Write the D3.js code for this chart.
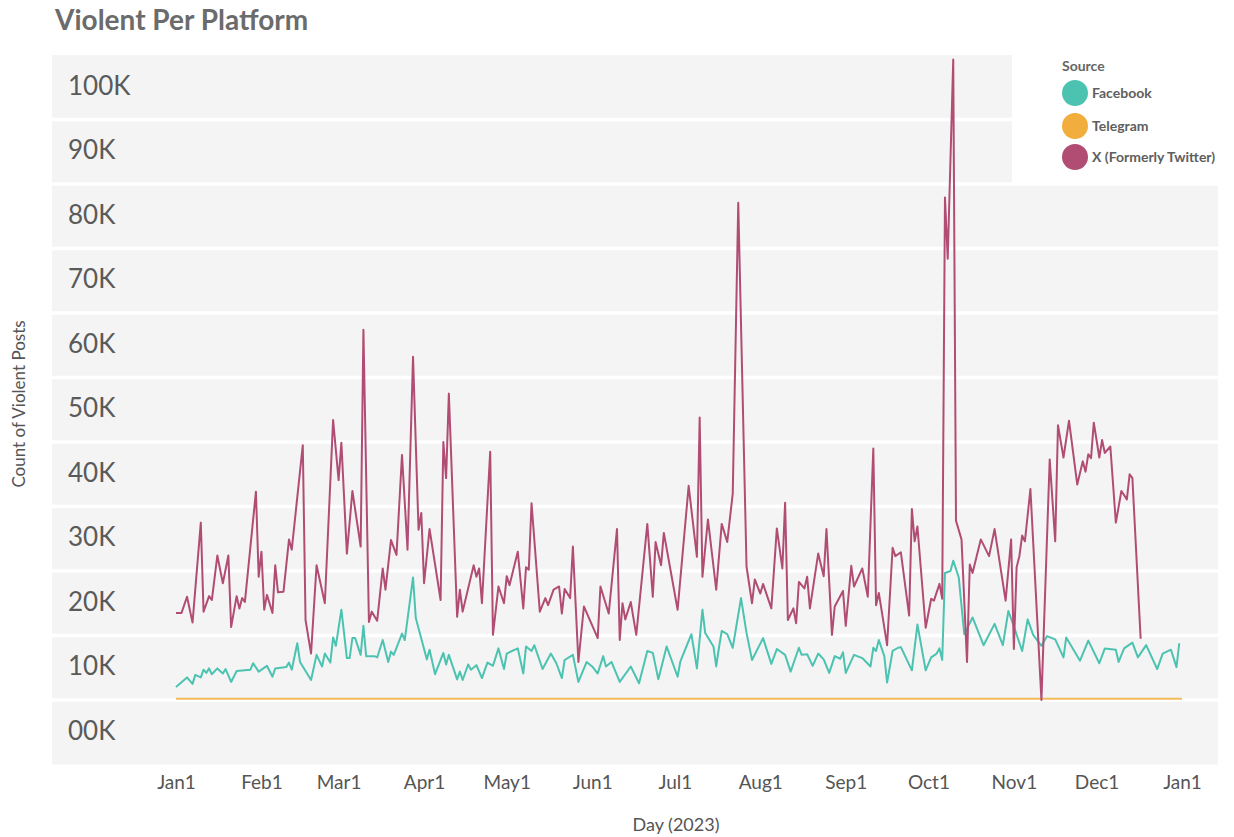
<!DOCTYPE html>
<html>
<head>
<meta charset="utf-8">
<script src="https://cdn.jsdelivr.net/npm/d3@7"></script>
<style>
  body { margin: 0; background: #fff; font-family: Lato, "Open Sans", sans-serif; }
</style>
</head>
<body>
<svg id="chart" width="1234" height="837"></svg>
<script>
// values are in thousands of posts, first entry = days after Jan 1 2023
const facebookK = [[0,2.0],[4,3.5],[6,2.5],[7,3.9],[9,3.5],[10,4.7],[11,4.2],[12,4.9],[13,4.0],[15,4.9],[17,4.1],[18,4.8],[20,2.8],[22,4.5],[27,4.7],[28,5.7],[30,4.4],[33,5.3],[35,3.6],[36,4.9],[40,5.1],[41,5.8],[42,4.7],[44,8.8],[45,5.9],[49,3.1],[51,7.0],[53,5.2],[54,7.2],[56,5.8],[57,9.7],[58,8.4],[60,14.0],[62,6.5],[63,6.5],[64,9.6],[65,9.6],[67,7.0],[68,11.5],[69,6.8],[72,6.8],[73,6.6],[75,9.3],[77,5.9],[78,7.5],[79,7.0],[82,10.3],[83,9.3],[86,19.0],[87,12.7],[91,6.3],[92,7.8],[94,4.0],[97,7.3],[98,5.5],[99,7.0],[102,3.2],[103,4.4],[104,3.1],[106,5.5],[107,4.7],[109,5.4],[111,3.4],[113,5.8],[115,5.3],[117,8.0],[119,4.8],[120,7.2],[124,8.0],[126,4.1],[127,8.3],[129,7.6],[130,8.5],[133,4.8],[136,7.2],[138,5.7],[140,3.4],[141,6.2],[144,7.0],[146,2.8],[149,5.9],[151,5.2],[153,4.1],[155,6.8],[156,5.2],[158,5.9],[161,2.8],[165,5.2],[168,2.6],[171,7.6],[173,7.3],[175,3.2],[176,4.9],[178,8.3],[182,3.6],[183,6.0],[187,10.2],[189,4.9],[191,14.0],[192,10.4],[195,8.3],[196,5.2],[197,8.1],[198,10.7],[200,10.2],[202,8.1],[205,15.8],[207,10.4],[209,6.2],[213,9.6],[216,5.6],[218,7.9],[221,7.0],[223,4.4],[226,8.1],[227,7.0],[229,7.1],[231,5.3],[233,7.2],[235,6.3],[237,4.2],[239,6.8],[241,6.4],[242,7.4],[243,4.2],[246,7.0],[249,6.5],[252,5.2],[253,8.1],[254,7.6],[255,9.3],[257,6.8],[258,2.7],[260,7.6],[262,8.1],[263,8.2],[267,4.6],[269,11.7],[272,4.6],[274,6.6],[276,7.2],[277,8.0],[278,6.2],[279,19.7],[281,20.0],[282,21.6],[284,19.0],[286,10.2],[289,12.8],[293,8.5],[297,11.8],[300,8.5],[302,13.8],[304,11.4],[307,7.6],[309,12.5],[311,10.1],[314,8.4],[316,9.9],[319,9.4],[322,6.6],[323,9.7],[328,6.1],[331,9.2],[335,5.7],[337,8.0],[341,7.8],[342,5.9],[344,8.0],[347,8.9],[349,6.6],[352,8.5],[356,4.8],[358,7.2],[361,7.8],[363,5.1],[364,8.8]];

const telegramK = [[0,0.2],[31,0.2],[59,0.2],[90,0.2],[120,0.2],[151,0.2],[181,0.2],[212,0.2],[243,0.2],[273,0.2],[304,0.2],[334,0.2],[365,0.2]];

const twitterK = [[0,13.5],[2,13.5],[4,16.0],[6,12.0],[9,27.5],[10,13.7],[12,16.1],[13,15.5],[15,22.4],[17,18.1],[19,22.4],[20,11.3],[22,16.1],[23,14.2],[24,15.8],[25,15.2],[29,32.3],[30,19.1],[31,23.0],[32,14.0],[33,16.3],[35,13.5],[36,20.9],[37,16.7],[39,16.8],[41,24.9],[42,23.3],[46,39.5],[47,12.4],[49,7.2],[51,20.9],[54,15.0],[57,43.4],[59,34.1],[60,39.9],[62,22.7],[64,32.4],[67,23.8],[68,57.4],[70,12.1],[71,13.7],[73,12.3],[75,20.4],[76,17.1],[78,24.8],[80,22.5],[82,38.0],[84,23.3],[86,53.2],[88,26.4],[89,29.0],[90,18.1],[92,26.5],[96,15.5],[97,40.0],[98,34.4],[99,47.5],[102,12.9],[103,17.1],[104,13.7],[108,20.9],[109,19.1],[110,20.4],[111,15.0],[114,38.5],[115,10.1],[117,17.6],[119,15.0],[120,19.2],[121,17.8],[124,23.0],[126,14.2],[127,20.6],[128,20.2],[129,30.5],[132,13.7],[134,15.8],[135,14.7],[137,17.1],[139,17.6],[140,13.4],[141,17.2],[143,15.8],[144,23.8],[146,5.9],[148,14.5],[153,9.6],[154,17.6],[157,13.4],[160,26.5],[161,9.3],[162,15.0],[163,12.5],[165,15.2],[167,10.1],[171,27.3],[173,16.0],[174,24.5],[176,20.9],[177,25.9],[182,14.0],[186,33.2],[189,22.2],[190,43.8],[191,19.1],[193,28.0],[196,17.1],[198,27.3],[200,24.5],[202,32.0],[204,77.1],[207,20.7],[209,15.0],[210,18.7],[212,16.5],[213,18.0],[216,14.2],[218,26.6],[220,20.4],[221,30.6],[222,12.4],[224,14.2],[225,11.9],[226,18.3],[228,17.3],[229,19.1],[230,14.2],[233,22.7],[235,19.2],[236,26.5],[238,10.1],[239,14.5],[242,16.9],[243,11.5],[245,20.8],[246,17.6],[249,20.4],[251,16.0],[253,39.0],[254,14.7],[255,16.6],[258,8.5],[260,23.6],[261,22.3],[263,22.9],[266,13.1],[267,29.6],[268,24.6],[269,26.9],[272,11.2],[274,15.7],[275,15.4],[277,18.0],[278,15.7],[279,77.9],[280,68.4],[282,99.3],[283,27.8],[285,24.9],[287,5.9],[288,21.0],[289,19.7],[292,24.9],[295,22.3],[297,26.5],[301,15.4],[303,24.9],[304,7.9],[305,20.6],[306,22.3],[307,25.5],[308,24.6],[310,32.7],[314,0.0],[317,37.3],[319,24.6],[320,42.6],[322,37.6],[324,43.3],[327,33.4],[329,37.0],[330,35.4],[331,38.1],[332,37.5],[333,43.0],[335,37.6],[336,40.3],[337,38.3],[339,39.3],[341,27.5],[343,32.4],[345,31.1],[346,35.0],[347,34.4],[350,9.5]];

const monthLabels = ["Jan1","Feb1","Mar1","Apr1","May1","Jun1","Jul1","Aug1","Sep1","Oct1","Nov1","Dec1","Jan1"];
const yTickValues = [0,10000,20000,30000,40000,50000,60000,70000,80000,90000,100000];
const sources = ["Facebook","Telegram","X (Formerly Twitter)"];
const colors = ["#4cc3b1","#f2ae3d","#b14d73"];

const svg = d3.select("#chart");
const plot = {left: 52, right: 1218, top: 55, bottom: 764.5};

const start = new Date(2023, 0, 1);
const day = n => d3.timeDay.offset(start, n);

const x = d3.scaleTime().domain([start, new Date(2024, 0, 1)]).range([176, 1182]);
const y = d3.scaleLinear().domain([-10000, 100000]).range([plot.bottom, plot.top]);

// title
svg.append("text")
    .attr("x", 55).attr("y", 30)
    .style("font-size", "28px").style("font-weight", "bold")
    .style("fill", "#6b6b6b")
    .text("Violent Per Platform");

// grey background, with the legend corner left white
svg.append("rect")
    .attr("x", plot.left).attr("y", plot.top)
    .attr("width", plot.right - plot.left).attr("height", plot.bottom - plot.top)
    .attr("fill", "#f4f4f4");
svg.append("rect")
    .attr("x", 1012).attr("y", 40)
    .attr("width", 222).attr("height", y(80000) - 40 - 1.5)
    .attr("fill", "#fff");

// white band separators
svg.append("g").selectAll("line")
    .data(d3.range(0, 100000, 10000))
    .join("line")
    .attr("x1", plot.left)
    .attr("x2", d => d >= 90000 ? 1012 : plot.right)
    .attr("y1", d => y(d)).attr("y2", d => y(d))
    .attr("stroke", "#fff").attr("stroke-width", 3.5);

// y axis: labels sit in the middle of the band below each value
const yAxis = svg.append("g")
    .attr("transform", "translate(" + plot.left + ",0)")
    .call(d3.axisLeft(y).tickValues(yTickValues).tickSize(0)
        .tickFormat(d => d3.format("02d")(d / 1000) + "K"));
yAxis.select(".domain").remove();
yAxis.selectAll("text")
    .attr("x", 16)
    .attr("y", y(-5000) - y(0) - 2)
    .attr("dy", "0.35em")
    .attr("text-anchor", "start")
    .style("font-family", "Lato, sans-serif")
    .style("font-size", "26px")
    .style("fill", "#5a5a5a");

// x axis
const xAxis = svg.append("g")
    .attr("transform", "translate(0," + plot.bottom + ")")
    .call(d3.axisBottom(x)
        .tickValues(d3.timeMonth.range(start, new Date(2024, 0, 2)))
        .tickSize(0).tickPadding(11)
        .tickFormat((d, i) => monthLabels[i]));
xAxis.select(".domain").remove();
xAxis.selectAll("text")
    .style("font-family", "Lato, sans-serif")
    .style("font-size", "19px")
    .style("fill", "#555");

svg.append("text")
    .attr("x", 676).attr("y", 831)
    .attr("text-anchor", "middle")
    .style("font-size", "18px").style("fill", "#555")
    .text("Day (2023)");

svg.append("text")
    .attr("transform", "translate(25,404) rotate(-90)")
    .attr("text-anchor", "middle")
    .style("font-size", "17px").style("fill", "#555")
    .text("Count of Violent Posts");

// lines
const line = d3.line()
    .x(d => x(day(d[0])))
    .y(d => y(d[1] * 1000));

[facebookK, telegramK, twitterK].forEach(function (series, i) {
    svg.append("path")
        .datum(series)
        .attr("fill", "none")
        .attr("stroke", colors[i])
        .attr("stroke-width", 2)
        .attr("stroke-linejoin", "round")
        .attr("opacity", i === 1 ? 0.85 : 1)
        .attr("d", line);
});

// legend
const legend = svg.append("g");
legend.append("text")
    .attr("x", 1062).attr("y", 71)
    .style("font-size", "14px").style("font-weight", "bold").style("fill", "#666")
    .text("Source");
const item = legend.selectAll(".item")
    .data(sources)
    .join("g")
    .attr("class", "item")
    .attr("transform", (d, i) => "translate(1075," + [93, 126, 157][i] + ")");
item.append("circle")
    .attr("r", 13)
    .attr("fill", (d, i) => colors[i]);
item.append("text")
    .attr("x", 17).attr("dy", "0.35em")
    .style("font-size", "14px").style("font-weight", "bold").style("fill", "#5e5e5e")
    .text(d => d);
</script>
</body>
</html>
